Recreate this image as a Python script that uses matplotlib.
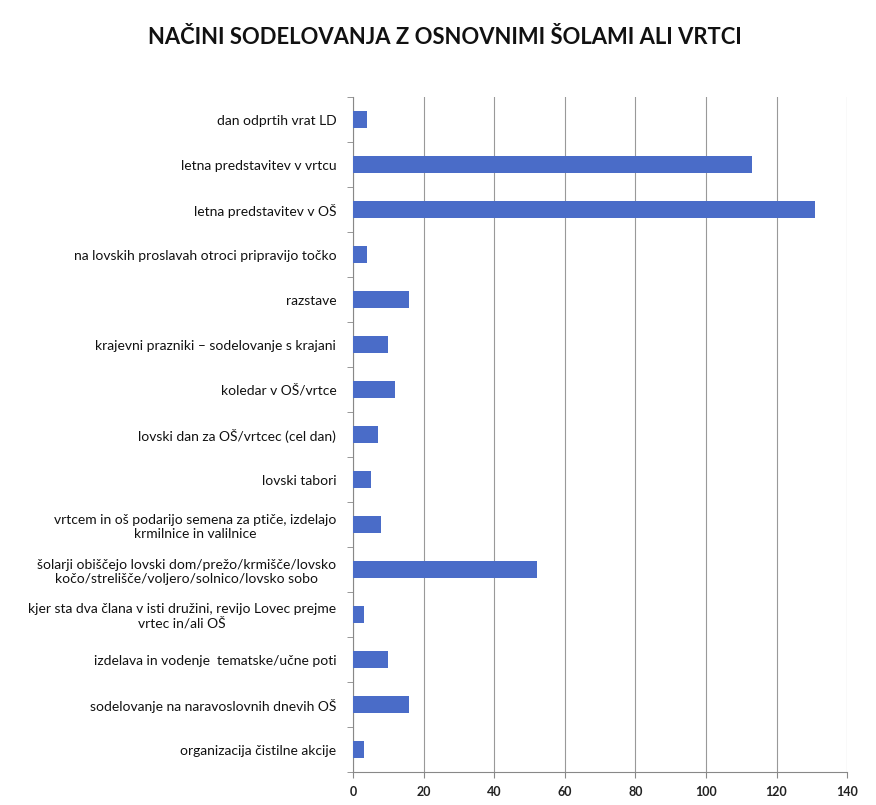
import matplotlib.pyplot as plt
import numpy as np

plt.rcParams['font.family'] = ['Lato', 'DejaVu Sans']

# categories top to bottom, as in the chart
labels = [
    'dan odprtih vrat LD',
    'letna predstavitev v vrtcu',
    'letna predstavitev v OŠ',
    'na lovskih proslavah otroci pripravijo točko',
    'razstave',
    'krajevni prazniki – sodelovanje s krajani',
    'koledar v OŠ/vrtce',
    'lovski dan za OŠ/vrtcec (cel dan)',
    'lovski tabori',
    'vrtcem in oš podarijo semena za ptiče, izdelajo\nkrmilnice in valilnice',
    'šolarji obiščejo lovski dom/prežo/krmišče/lovsko\nkočo/strelišče/voljero/solnico/lovsko sobo',
    'kjer sta dva člana v isti družini, revijo Lovec prejme\nvrtec in/ali OŠ',
    'izdelava in vodenje  tematske/učne poti',
    'sodelovanje na naravoslovnih dnevih OŠ',
    'organizacija čistilne akcije',
]
values = [4, 113, 131, 4, 16, 10, 12, 7, 5, 8, 52, 3, 10, 16, 3]
xticks = [0, 20, 40, 60, 80, 100, 120, 140]

fig = plt.figure(figsize=(8.76, 8.05), dpi=100)
ax = fig.add_axes([0.403, 0.041, 0.564, 0.838])

y = np.arange(len(labels))
ax.barh(y, values, height=0.38, color='#4A6CC8', zorder=3)

ax.set_ylim(len(labels) - 0.5, -0.5)
ax.set_xlim(0, 140)
ax.set_xticks(xticks)
ax.set_xticklabels([str(t) for t in xticks], fontsize=9, fontweight='bold', color='#222222')
ax.set_yticks(y)
ax.set_yticklabels(labels, fontsize=10, color='#111111', multialignment='center')
ax.set_yticks(np.arange(len(labels) + 1) - 0.5, minor=True)
ax.tick_params(axis='y', which='major', length=0, pad=12)
ax.tick_params(axis='y', which='minor', length=4, color='#888888')
ax.tick_params(axis='x', length=4, color='#888888', pad=6)

ax.grid(axis='x', color='#999999', linewidth=0.8, zorder=0)
for side in ['top', 'right']:
    ax.spines[side].set_visible(False)
for side in ['left', 'bottom']:
    ax.spines[side].set_color('#888888')

fig.text(0.508, 0.953, 'NAČINI SODELOVANJA Z OSNOVNIMI ŠOLAMI ALI VRTCI',
         ha='center', va='center', fontsize=15.8, fontweight='bold', color='#111111')

fig.savefig('out.png', dpi=100, facecolor='white')
